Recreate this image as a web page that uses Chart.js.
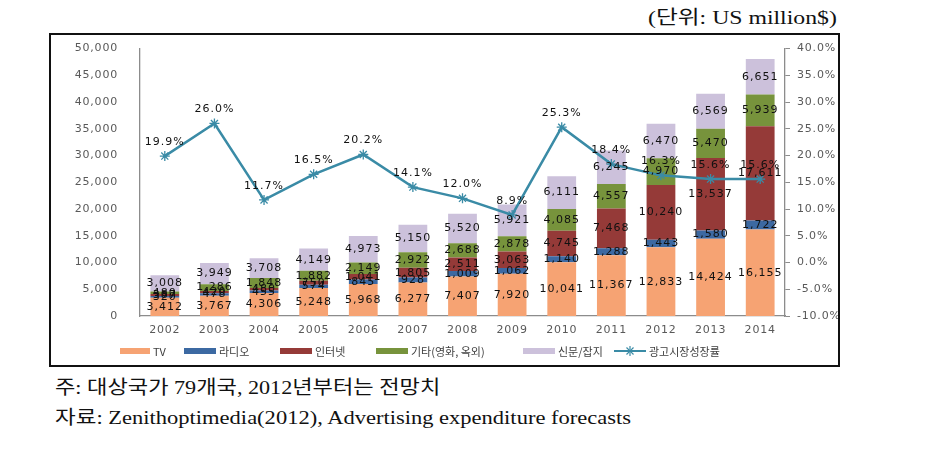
<!DOCTYPE html>
<html>
<head>
<meta charset="utf-8">
<script src="https://cdn.jsdelivr.net/npm/chart.js@4.4.1/dist/chart.umd.min.js"></script>
<style>
  html, body { margin:0; padding:0; background:#fff; }
  body { width:945px; height:451px; position:relative; overflow:hidden; }
  #unit { position:absolute; top:2px; left:648px; font-family:"Liberation Serif","Noto Sans CJK KR",serif; font-size:19px; color:#111; white-space:nowrap; transform-origin:left top; transform:scaleX(1.25); }
  #box { position:absolute; left:49px; top:33px; width:791px; height:334px; border:2px solid #111; box-sizing:border-box; overflow:hidden; }
  #c { position:absolute; left:0; top:-15px; }
  #legend { position:absolute; left:0; top:0; font-family:"Noto Sans CJK KR","Noto Sans",sans-serif; font-size:11px; color:#404040; white-space:nowrap; }
  .it { position:absolute; display:flex; align-items:center; height:14px; }
  .sw { display:inline-block; height:6px; margin-right:3px; }
  .note { position:absolute; left:55px; font-family:"Liberation Serif","Noto Sans CJK KR",serif; font-size:19px; color:#111; white-space:nowrap; transform-origin:left top; }
</style>
</head>
<body>
<div id="unit">(단위: US million$)</div>
<div id="box">
  <canvas id="c" width="787" height="345"></canvas>
  <div id="legend"></div>
</div>
<div class="note" id="n1" style="top:372px; transform:scaleX(1.165);">주: 대상국가 79개국, 2012년부터는 전망치</div>
<div class="note" id="n2" style="top:402px; transform:scaleX(1.185);">자료: Zenithoptimedia(2012), Advertising expenditure forecasts</div>
<script>
const years = ['2002','2003','2004','2005','2006','2007','2008','2009','2010','2011','2012','2013','2014'];
const tv        = [3412, 3767, 4306, 5248, 5968, 6277, 7407, 7920, 10041, 11367, 12833, 14424, 16155];
const radio     = [320, 478, 455, 574, 845, 928, 1009, 1062, 1140, 1288, 1443, 1580, 1722];
const internet  = [387, 420, 480, 750, 1041, 1805, 2511, 3063, 4745, 7468, 10240, 13537, 17611];
const other     = [480, 1286, 1848, 1882, 2149, 2922, 2688, 2878, 4085, 4557, 4970, 5470, 5939];
const press     = [3008, 3949, 3708, 4149, 4973, 5150, 5520, 5921, 6111, 6245, 6470, 6569, 6651];
const growth    = [19.9, 26.0, 11.7, 16.5, 20.2, 14.1, 12.0, 8.9, 25.3, 18.4, 16.3, 15.6, 15.6];
const seriesNames = ['TV', '라디오', '인터넷', '기타(영화, 옥외)', '신문/잡지', '광고시장성장률'];

const colors = ['#F6A373', '#3C69A2', '#953A38', '#77933C', '#CCC1DB', '#3A8BA6'];
const tickColor = '#595959';
const axisColor = '#8C8C8C';

const fmt = v => v.toLocaleString('en-US');

const valuePlugin = {
  id: 'values',
  beforeDraw(chart) { chart.ctx.letterSpacing = '0.8px'; },
  afterDatasetsDraw(chart) {
    const ctx = chart.ctx;
    ctx.save();
    ctx.letterSpacing = '1px';
    ctx.font = '11px "DejaVu Sans"';
    ctx.fillStyle = '#111';
    ctx.textAlign = 'center';
    ctx.textBaseline = 'middle';
    chart.data.datasets.forEach((ds, di) => {
      const meta = chart.getDatasetMeta(di);
      meta.data.forEach((el, i) => {
        if (ds.type === 'line') {
          ctx.fillText(ds.data[i].toFixed(1) + '%', el.x, el.y - 14);
        } else {
          ctx.fillText(fmt(ds.data[i]), el.x, (el.y + el.base) / 2);
        }
      });
    });
    ctx.restore();
  }
};

const barSets = [tv, radio, internet, other, press].map((d, i) => ({
  type: 'bar', label: seriesNames[i], data: d, backgroundColor: colors[i],
  yAxisID: 'y', stack: 's', order: 1, categoryPercentage: 1, barPercentage: 0.58
}));
const lineSet = {
  type: 'line', label: seriesNames[5], data: growth, yAxisID: 'y1', order: -1,
  borderColor: colors[5], backgroundColor: colors[5], borderWidth: 2.5, tension: 0,
  pointStyle: 'star', pointRadius: 5, pointBorderWidth: 1.3, pointBorderColor: colors[5]
};

const chart = new Chart(document.getElementById('c'), {
  data: { labels: years, datasets: [...barSets, lineSet] },
  options: {
    responsive: false, animation: false, devicePixelRatio: 1,
    layout: { padding: { top: 0, left: 0, right: 0, bottom: 0 } },
    plugins: { legend: { display: false }, tooltip: { enabled: false } },
    scales: {
      x: {
        stacked: true, offset: true,
        grid: { display: false, drawTicks: false },
        border: { display: true, color: axisColor, width: 1.3 },
        ticks: { color: tickColor, font: { family: 'DejaVu Sans', size: 11 }, padding: 8 },
        afterFit(s) { s.height = 49; }
      },
      y: {
        position: 'left', stacked: true, min: 0, max: 50000,
        grid: { display: false, drawTicks: false },
        border: { display: true, color: axisColor, width: 1.3 },
        ticks: { stepSize: 5000, color: tickColor, font: { family: 'DejaVu Sans', size: 11 }, padding: 22, callback: v => fmt(v) },
        afterFit(s) { s.width = 89; }
      },
      y1: {
        position: 'right', min: -10, max: 40,
        grid: { display: true, drawOnChartArea: false, drawTicks: true, tickLength: 5, color: axisColor },
        border: { display: true, color: axisColor, width: 1.3 },
        ticks: { stepSize: 5, color: tickColor, font: { family: 'DejaVu Sans', size: 11 }, padding: 7, callback: v => v.toFixed(1) + '%' },
        afterFit(s) { s.width = 53; }
      }
    }
  },
  plugins: [valuePlugin]
});

// HTML legend built from the chart's datasets (positions relative to the box)
const legend = document.getElementById('legend');
const itemLeft = [69, 133, 229, 325, 472, 563];
const swW = [30, 32, 32, 32, 32];
const legendTop = 309;
chart.data.datasets.forEach((ds, i) => {
  const it = document.createElement('div');
  it.className = 'it';
  it.style.left = itemLeft[i] + 'px';
  it.style.top = legendTop + 'px';
  if (ds.type === 'line') {
    it.innerHTML = '<svg width="32" height="12" style="margin-right:3px"><line x1="0" y1="6" x2="32" y2="6" stroke="' + ds.borderColor + '" stroke-width="2"/>' +
      '<g stroke="' + ds.borderColor + '" stroke-width="1.2"><line x1="16" y1="1" x2="16" y2="11"/><line x1="11" y1="6" x2="21" y2="6"/><line x1="12.5" y1="2.5" x2="19.5" y2="9.5"/><line x1="19.5" y1="2.5" x2="12.5" y2="9.5"/></g></svg>';
  } else {
    it.innerHTML = '<span class="sw" style="width:' + swW[i] + 'px;background:' + ds.backgroundColor + '"></span>';
  }
  const t = document.createElement('span');
  t.textContent = ds.label;
  it.appendChild(t);
  legend.appendChild(it);
});
</script>
</body>
</html>
